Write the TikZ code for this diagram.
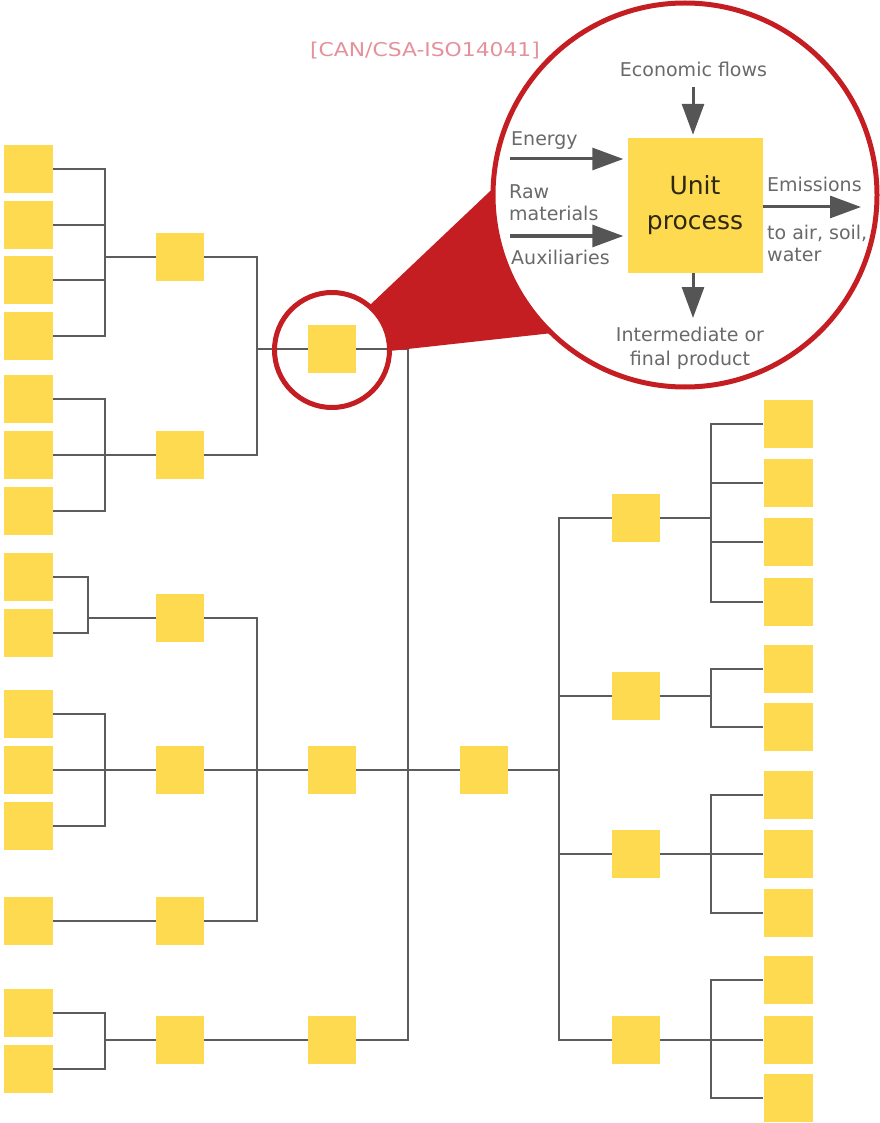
\documentclass[tikz,border=0pt]{standalone}
\usepackage{fontspec}
\setmainfont{DejaVu Sans}
\usetikzlibrary{arrows.meta}
\definecolor{boxy}{RGB}{253,218,80}
\definecolor{conng}{RGB}{92,92,92}
\definecolor{arrg}{RGB}{85,85,85}
\definecolor{labg}{RGB}{105,105,105}
\definecolor{zred}{RGB}{196,30,34}
\definecolor{refpink}{RGB}{228,145,155}
\definecolor{updark}{RGB}{45,40,15}
\begin{document}
\begin{tikzpicture}[x=1pt,y=-1pt,
  box/.style={fill=boxy,inner sep=0pt,minimum width=48pt,minimum height=48pt},
  leaf/.style={box,minimum width=49pt},
  conn/.style={draw=conng,line width=2.8pt},
  flow/.style={draw=arrg,line width=3pt,-{Triangle[length=31pt,width=22pt]}},
  lab/.style={text=labg,font=\fontsize{19}{23}\selectfont,inner sep=0pt},
  zoomring/.style={draw=zred,line width=5pt}
]
\useasboundingbox (0,0) rectangle (879,1123);

% left leaves
\node[leaf] (L1) at (28.5,169) {};
\node[leaf] (L2) at (28.5,225) {};
\node[leaf] (L3) at (28.5,280) {};
\node[leaf] (L4) at (28.5,336) {};
\node[leaf] (L5) at (28.5,399) {};
\node[leaf] (L6) at (28.5,455) {};
\node[leaf] (L7) at (28.5,511) {};
\node[leaf] (L8) at (28.5,577) {};
\node[leaf] (L9) at (28.5,633) {};
\node[leaf] (L10) at (28.5,714) {};
\node[leaf] (L11) at (28.5,770) {};
\node[leaf] (L12) at (28.5,826) {};
\node[leaf] (L13) at (28.5,921) {};
\node[leaf] (L14) at (28.5,1013) {};
\node[leaf] (L15) at (28.5,1069) {};
% second level left
\node[box] (MA) at (180,257) {};
\node[box] (MB) at (180,455) {};
\node[box] (MC) at (180,618) {};
\node[box] (MD) at (180,770) {};
\node[box] (ME) at (180,921) {};
\node[box] (MG) at (180,1040) {};
% third level
\node[box] (CB) at (332,349) {};
\node[box] (F) at (332,770) {};
\node[box] (H) at (332,1040) {};
% centre
\node[box] (I) at (484,770) {};
% right mids
\node[box] (RJ) at (636,518) {};
\node[box] (RK) at (636,696) {};
\node[box] (RL) at (636,854) {};
\node[box] (RM) at (636,1040) {};
% right leaves
\node[leaf] (R1) at (788,424) {};
\node[leaf] (R2) at (788,483) {};
\node[leaf] (R3) at (788,542) {};
\node[leaf] (R4) at (788,602) {};
\node[leaf] (R5) at (788,669) {};
\node[leaf] (R6) at (788,727) {};
\node[leaf] (R7) at (788,795) {};
\node[leaf] (R8) at (788,854) {};
\node[leaf] (R9) at (788,913) {};
\node[leaf] (R10) at (788,980) {};
\node[leaf] (R11) at (788,1040) {};
\node[leaf] (R12) at (788,1098) {};

% junction coordinates
\coordinate (j1) at (105,257);
\coordinate (j2) at (105,455);
\coordinate (j3) at (88,618);
\coordinate (j4) at (105,770);
\coordinate (j5) at (105,1040);
\coordinate (m1) at (257,349);
\coordinate (m2) at (257,770);
\coordinate (t) at (408,770);
\coordinate (k) at (559,770);
\coordinate (g1) at (711,518);
\coordinate (g2) at (711,696);
\coordinate (g3) at (711,854);
\coordinate (g4) at (711,1040);

% left brackets
\draw[conn] (L1.east) -| (j1) |- (L4.east);
\draw[conn] (L2.east) -- (L2.east -| j1);
\draw[conn] (L3.east) -- (L3.east -| j1);
\draw[conn] (j1) -- (MA.west);
\draw[conn] (L5.east) -| (j2) |- (L7.east);
\draw[conn] (L6.east) -- (MB.west);
\draw[conn] (L8.east) -| (j3) |- (L9.east);
\draw[conn] (j3) -- (MC.west);
\draw[conn] (L10.east) -| (j4) |- (L12.east);
\draw[conn] (L11.east) -- (MD.west);
\draw[conn] (L13.east) -- (ME.west);
\draw[conn] (L14.east) -| (j5) |- (L15.east);
\draw[conn] (j5) -- (MG.west);
% second level
\draw[conn] (MA.east) -| (m1) |- (MB.east);
\draw[conn] (m1) -- (CB.west);
\draw[conn] (MC.east) -| (m2) |- (ME.east);
\draw[conn] (MD.east) -- (F.west);
\draw[conn] (MG.east) -- (H.west);
% trunk
\draw[conn] (CB.east) -| (t) |- (H.east);
\draw[conn] (F.east) -- (I.west);
% right side
\draw[conn] (I.east) -- (k);
\draw[conn] (RJ.west) -| (k) |- (RM.west);
\draw[conn] (RK.west) -- (RK.west -| k);
\draw[conn] (RL.west) -- (RL.west -| k);
\draw[conn] (R1.west) -| (g1) |- (R4.west);
\draw[conn] (R2.west) -- (R2.west -| g1);
\draw[conn] (R3.west) -- (R3.west -| g1);
\draw[conn] (RJ.east) -- (g1);
\draw[conn] (R5.west) -| (g2) |- (R6.west);
\draw[conn] (RK.east) -- (g2);
\draw[conn] (R7.west) -| (g3) |- (R9.west);
\draw[conn] (R8.west) -- (RL.east);
\draw[conn] (R10.west) -| (g4) |- (R12.west);
\draw[conn] (R11.west) -- (RM.east);

% zoom wedge and rings
\fill[zred] (370.5,304.5) -- (493.1,188.3) arc[start angle=182, end angle=134, radius=192]
  -- (389.5,351) arc[start angle=1, end angle=-48, radius=57.5] -- cycle;
\draw[zoomring] (685,195) circle[radius=192];
\draw[zoomring] (332,350) circle[radius=57.5];

% unit process detail
\node[box,minimum width=135pt,minimum height=135pt,align=center,
      font=\fontsize{25}{35}\selectfont,text=updark] (UP) at (695,205.5) {Unit\\process};
\coordinate (ecS) at (693,87);
\coordinate (enS) at (510,159);
\coordinate (rwS) at (510,236);
\coordinate (emE) at (861,207);
\coordinate (prE) at (693,318);
\draw[flow,shorten >=3pt] (ecS) -- (ecS |- UP.north);
\draw[flow,shorten >=4pt] (enS) -- (enS -| UP.west);
\draw[flow,shorten >=4pt] (rwS) -- (rwS -| UP.west);
\draw[flow] (emE -| UP.east) -- (emE);
\draw[flow] (prE |- UP.south) -- (prE);

\node[lab,anchor=base] (tEco) at (693.5,77) {Economic flows};
\node[lab,anchor=base west] (tEn) at (511,146) {Energy};
\node[lab,anchor=base west] (tRaw) at (509,199) {Raw};
\node[lab,anchor=base west] (tMat) at (509,221) {materials};
\node[lab,anchor=base west] (tAux) at (511,264) {Auxiliaries};
\node[lab,anchor=base west] (tEm) at (767,192) {Emissions};
\node[lab,anchor=base west] (tAir) at (767,240) {to air, soil,};
\node[lab,anchor=base west] (tW) at (767,261) {water};
\node[lab,anchor=base] (tInt) at (690,341) {Intermediate or};
\node[lab,anchor=base] (tFin) at (690,365) {final product};
\node[lab,anchor=base,text=refpink] (ref) at (425,57) {\scalebox{1.15}[1]{[CAN/CSA-ISO14041]}};
\end{tikzpicture}
\end{document}
